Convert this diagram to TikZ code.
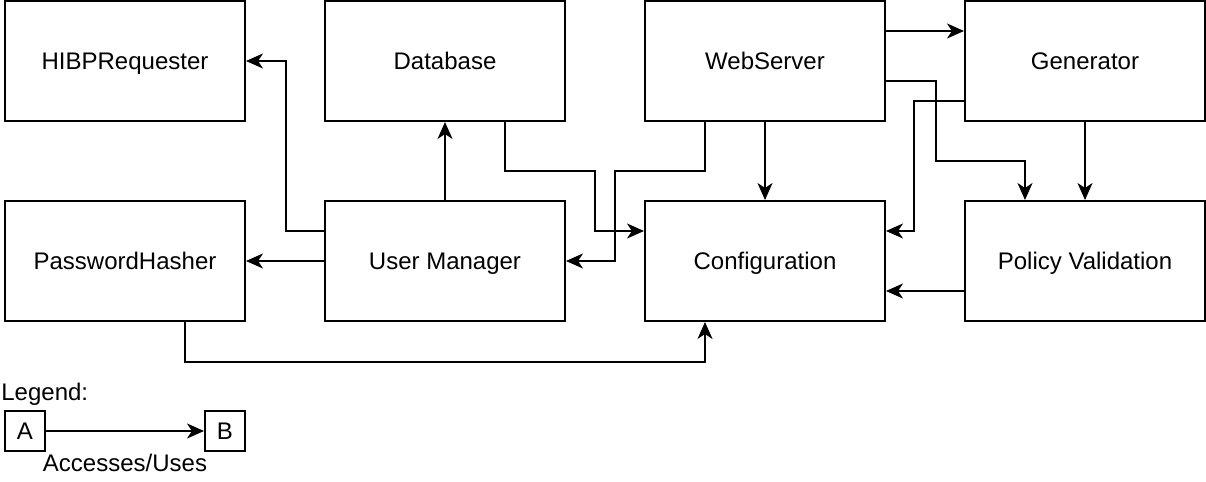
\documentclass[tikz,border=0pt]{standalone}
\usepackage{fontspec}
\setmainfont{Liberation Sans}
\usetikzlibrary{arrows.meta, calc}

\begin{document}
\begin{tikzpicture}[
    x=0.5pt, y=-0.5pt,
    every node/.style={font=\fontsize{12pt}{14pt}\selectfont},
    comp/.style={rectangle, draw=black, fill=white, line width=1pt,
                 minimum width=120pt, minimum height=60pt, inner sep=0pt,
                 text height=11pt, text depth=2.4pt},
    small/.style={rectangle, draw=black, fill=white, line width=1pt,
                  minimum width=20pt, minimum height=20pt, inner sep=0pt,
                  text height=11pt, text depth=2.4pt},
    lab/.style={font=\fontsize{12pt}{14pt}\selectfont, inner sep=0pt,
                text height=11pt, text depth=2.4pt},
    arr/.style={-{Stealth[length=8.5pt, width=7.5pt, inset=2.5pt]}, line width=1pt, color=black},
]
\useasboundingbox (0,0) rectangle (1206,482);

% ---------------------------------------------------------------- top row
\node[comp] (hibp) at (125,61)  {HIBPRequester};
\node[comp] (db)   at (445,61)  {Database};
\node[comp] (ws)   at (765,61)  {WebServer};
\node[comp] (gen)  at (1085,61) {Generator};

% ------------------------------------------------------------- bottom row
\node[comp] (ph)   at (125,261)  {PasswordHasher};
\node[comp] (um)   at (445,261)  {User Manager};
\node[comp] (conf) at (765,261)  {Configuration};
\node[comp] (pv)   at (1085,261) {Policy Validation};

% user manager
\draw[arr] ([yshift=15pt]um.west) -| ([xshift=20pt]hibp.east) -- (hibp.east);
\draw[arr] (um.west) -- (ph.east);
\draw[arr] (um.north) -- (db.south);

% database and webserver, crossing
\draw[arr] ([xshift=30pt]db.south) -- ++(0,49) -- ++(90,0) |- ([yshift=15pt]conf.west);
\draw[arr] ([xshift=-30pt]ws.south) -- ++(0,49) -- ++(-90,0) |- (um.east);

% webserver
\draw[arr] (ws.south) -- (conf.north);
\draw[arr] ([yshift=15pt]ws.east) -- ([yshift=15pt]gen.west);
\draw[arr] ([yshift=-10pt]ws.east) -- ++(50,0) -- ++(0,80) -| ([xshift=-30pt]pv.north);

% generator
\draw[arr] ([yshift=-20pt]gen.west) -- ++(-50,0) |- ([yshift=15pt]conf.east);
\draw[arr] (gen.south) -- (pv.north);

% policy validation and password hasher
\draw[arr] ([yshift=-15pt]pv.west) -- ([yshift=-15pt]conf.east);
\draw[arr] ([xshift=30pt]ph.south) -- ++(0,40) -| ([xshift=-30pt]conf.south);

% ----------------------------------------------------------------- legend
\node[lab, anchor=west] (legend) at (1,392) {Legend:};
\node[small] (la) at (25,431)  {A};
\node[small] (lb) at (225,431) {B};
\draw[arr] (la.east) -- (lb.west);
\node[lab] (uses) at (125,463) {Accesses/Uses};

\end{tikzpicture}
\end{document}
